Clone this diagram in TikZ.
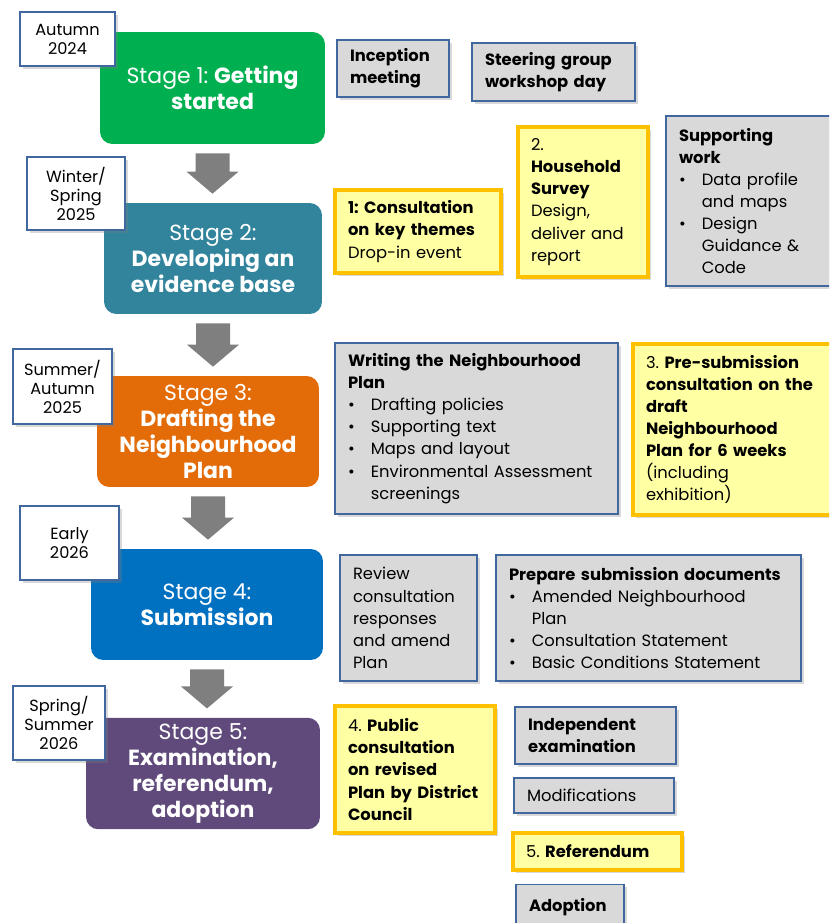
\documentclass[tikz,border=0pt]{standalone}
\usepackage{fontspec}
\setmainfont{Poppins}
\usetikzlibrary{calc,shadows}

\definecolor{stgreen}{HTML}{00B050}
\definecolor{stteal}{HTML}{31849B}
\definecolor{storange}{HTML}{E36C09}
\definecolor{stblue}{HTML}{0070C0}
\definecolor{stpurple}{HTML}{604A7B}
\definecolor{arrowgrey}{HTML}{7F7F7F}
\definecolor{edgeblue}{HTML}{41689E}
\definecolor{taskgrey}{HTML}{D9D9D9}
\definecolor{consultgold}{HTML}{FFC000}
\definecolor{consultyellow}{HTML}{FFFFA3}

\hyphenpenalty=10000
\exhyphenpenalty=10000
\frenchspacing

\newcommand{\bl}{\makebox[13pt][l]{\textbullet}}
\newcommand{\ind}{\hspace*{13pt}}

\tikzset{
	stagebox/.style={fill=#1, rounded corners=7pt, text=white, align=center,
		font=\fontsize{12.5}{14.8}\selectfont},
	datebox/.style={draw=edgeblue, fill=white, line width=0.8pt, align=center,
		font=\fontsize{9.2}{10.8}\selectfont,
		drop shadow={shadow xshift=1.5pt, shadow yshift=-1.5pt, opacity=0.3}},
	taskbox/.style={draw=edgeblue, fill=taskgrey, line width=0.8pt, align=left,
		inner xsep=0.26cm, font=\fontsize{9.3}{12.6}\selectfont,
		drop shadow={shadow xshift=1.5pt, shadow yshift=-1.5pt, opacity=0.3}},
	consultbox/.style={draw=consultgold, fill=consultyellow, line width=1.8pt, align=left,
		inner xsep=0.26cm, font=\fontsize{9.3}{12.6}\selectfont,
		drop shadow={shadow xshift=1.5pt, shadow yshift=-1.5pt, opacity=0.3}}
}

\begin{document}
\begin{tikzpicture}[x=0.02cm, y=-0.02cm]
	\clip (0,0) rectangle (829,923);
	\fill[white] (0,0) rectangle (829,923);

	\node[stagebox=stgreen, minimum width=4.5cm, minimum height=2.24cm]
	(s1) at (212.5,88) {Stage 1: \textbf{Getting}\\\textbf{started}};
	\node[stagebox=stteal, minimum width=4.36cm, minimum height=2.22cm]
	(s2) at (213,258.5) {Stage 2:\\\textbf{Developing an}\\\textbf{evidence base}};
	\node[stagebox=storange, minimum width=4.44cm, minimum height=2.22cm]
	(s3) at (208,431.5) {Stage 3:\\\textbf{Drafting the}\\\textbf{Neighbourhood}\\\textbf{Plan}};
	\node[stagebox=stblue, minimum width=4.64cm, minimum height=2.22cm]
	(s4) at (207,604.5) {Stage 4:\\\textbf{Submission}};
	\node[stagebox=stpurple, minimum width=4.68cm, minimum height=2.22cm]
	(s5) at (203,773.5) {Stage 5:\\\textbf{Examination,}\\\textbf{referendum,}\\\textbf{adoption}};

	\foreach \a/\b in {s1/s2,s2/s3,s3/s4,s4/s5}
		\fill[arrowgrey] ($(\a.south)+(-17,9)$) -- ($(\a.south)+(17,9)$) --
		($(\a.south |- \b.north)+(17,-31)$) -- ($(\a.south |- \b.north)+(26,-31)$) --
		($(\a.south |- \b.north)+(0,-9)$) --
		($(\a.south |- \b.north)+(-26,-31)$) -- ($(\a.south |- \b.north)+(-17,-31)$) -- cycle;

	\node[datebox, minimum width=1.9cm, minimum height=1.08cm]
	(d1) at (67.5,39) {Autumn\\2024};
	\node[datebox, minimum width=1.96cm, minimum height=1.46cm]
	(d2) at (76,193.5) {Winter/\\Spring\\2025};
	\node[datebox, minimum width=1.98cm, minimum height=1.5cm]
	(d3) at (62.5,386.5) {Summer/\\Autumn\\2025};
	\node[datebox, minimum width=1.98cm, minimum height=1.48cm]
	(d4) at (69.5,543) {Early\\2026};
	\node[datebox, minimum width=1.84cm, minimum height=1.48cm]
	(d5) at (59,723) {Spring/\\Summer\\2026};

	\node[taskbox, text width=1.72cm, minimum height=1.14cm]
	(incep) at (393,68.5) {\textbf{Inception}\\\textbf{meeting}};
	\node[taskbox, text width=2.74cm, minimum height=1.16cm]
	(steer) at (553.5,72) {\textbf{Steering group}\\\textbf{workshop day}};
	\node[consultbox, text width=2.8cm, minimum height=1.66cm]
	(cons1) at (418,231.5) {\textbf{1: Consultation}\\\textbf{on key themes}\\Drop-in event};
	\node[consultbox, text width=2.08cm, minimum height=3cm]
	(survey) at (583,202) {2.\\\textbf{Household}\\\textbf{Survey}\\Design,\\deliver and\\report};
	\node[taskbox, text width=2.84cm, minimum height=3.4cm]
	(support) at (750,201) {\textbf{Supporting}\\\textbf{work}\\\bl Data profile\\\ind and maps\\
		\bl Design\\\ind Guidance \&\\\ind Code};

	\node[taskbox, text width=5.14cm, minimum height=3.42cm]
	(writing) at (476.5,428.5) {\textbf{Writing the Neighbourhood}\\\textbf{Plan}\\\bl Drafting policies\\
		\bl Supporting text\\\bl Maps and layout\\\bl Environmental Assessment\\\ind screenings};
	\node[consultbox, text width=3.52cm, minimum height=3.42cm]
	(cons3) at (734,429.5) {3. \textbf{Pre-submission}\\\textbf{consultation on the}\\\textbf{draft}\\
		\textbf{Neighbourhood}\\\textbf{Plan for 6 weeks}\\(including\\exhibition)};

	\node[taskbox, text width=2.22cm, minimum height=2.52cm]
	(review) at (408.5,618) {Review\\consultation\\responses\\and amend\\Plan};
	\node[taskbox, text width=5.58cm, minimum height=2.52cm]
	(prepare) at (648.5,618) {\textbf{Prepare submission documents}\\\bl Amended Neighbourhood\\\ind Plan\\
		\bl Consultation Statement\\\bl Basic Conditions Statement};

	\node[consultbox, text width=2.68cm, minimum height=2.54cm]
	(cons4) at (415,769.5) {4. \textbf{Public}\\\textbf{consultation}\\\textbf{on revised}\\
		\textbf{Plan by District}\\\textbf{Council}};
	\node[taskbox, text width=2.7cm, minimum height=1.14cm]
	(indep) at (595.5,735.5) {\textbf{Independent}\\\textbf{examination}};
	\node[taskbox, text width=2.68cm, minimum height=0.7cm]
	(modif) at (594,795.5) {Modifications};
	\node[consultbox, text width=2.86cm, minimum height=0.74cm]
	(refer) at (597.5,851.5) {5. \textbf{Referendum}};
	\node[taskbox, text width=1.64cm, minimum height=0.9cm]
	(adopt) at (570,907) {\textbf{Adoption}};
\end{tikzpicture}
\end{document}
